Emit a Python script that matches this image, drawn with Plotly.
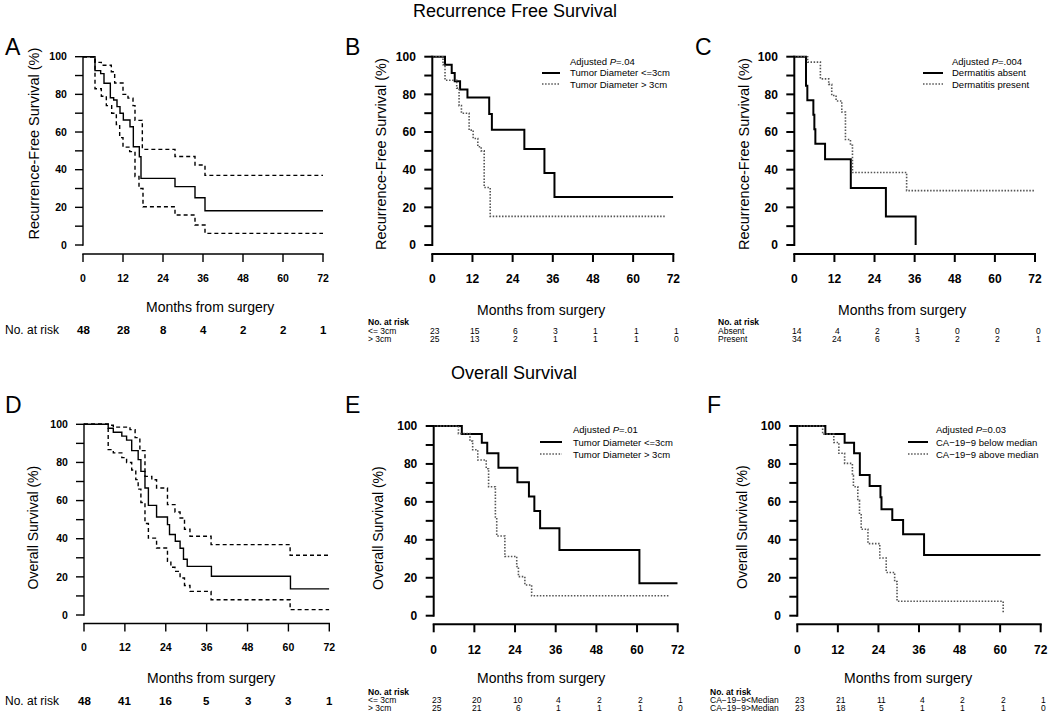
import plotly.graph_objects as go

W, H = 1050, 715
FONT = "Liberation Sans, Arial, sans-serif"

# ---------------- data ----------------
months_ticks = [0, 12, 24, 36, 48, 60, 72]
pct_ticks = [0, 10, 20, 30, 40, 50, 60, 70, 80, 90, 100]
pct_labels = ["0", "", "20", "", "40", "", "60", "", "80", "", "100"]

# A: Recurrence-free survival, all patients, with 95% CI
A_t = [0, 3.6, 5.3, 6.3, 8.2, 9.2, 10.2, 11.1, 12.1, 14.1, 15.1, 16.9, 17.4, 27.6, 33.6, 36.6, 72]
A_s = [100, 92.6, 91.0, 85.9, 78.2, 77.0, 73.5, 70.0, 66.4, 62.8, 52.2, 46.9, 35.4, 31.0, 25.1, 18.2, 18.2]
A_up_t = [0, 3.6, 5.5, 8.5, 9.5, 12.0, 13.5, 15.0, 15.6, 17.8, 27.6, 33.6, 36.6, 72]
A_up = [100, 97.0, 95.5, 92.0, 86.0, 80.0, 78.0, 74.0, 66.2, 50.8, 47.0, 42.5, 37.0, 37.0]
A_lo_t = [0, 3.6, 5.5, 7.0, 8.6, 10.0, 11.0, 12.0, 14.0, 15.6, 16.8, 18.0, 27.6, 33.6, 36.6, 72]
A_lo = [100, 83.0, 79.0, 74.0, 70.0, 64.0, 57.0, 52.0, 49.6, 36.4, 30.0, 20.3, 15.9, 10.6, 6.2, 6.2]

# B: RFS by tumor diameter
B1_t = [0, 3.8, 5.8, 6.7, 8.3, 10.5, 17.0, 17.8, 27.5, 33.5, 36.5, 72]
B1_s = [100, 95.7, 91.3, 87.0, 82.6, 78.3, 69.6, 61.2, 51.0, 38.3, 25.5, 25.5]
B2_t = [0, 3.2, 3.8, 7.3, 8.0, 8.7, 11.0, 12.2, 13.6, 14.6, 15.5, 17.3, 69.6]
B2_s = [100, 95.8, 87.5, 83.3, 74.0, 70.0, 61.0, 56.6, 52.2, 50.0, 30.5, 15.2, 15.2]

# C: RFS by dermatitis
C1_t = [0, 3.5, 3.9, 5.7, 6.0, 6.3, 9.2, 16.9, 27.4, 36.3]
C1_s = [100, 84.6, 76.9, 69.2, 61.5, 53.8, 45.5, 30.3, 15.2, 0]
C2_t = [0, 4.0, 7.8, 10.3, 11.2, 12.5, 14.2, 15.3, 16.8, 17.4, 33.6, 72]
C2_s = [100, 97.1, 88.2, 85.3, 79.4, 76.5, 70.6, 56.0, 53.0, 38.5, 28.9, 28.9]

# D: Overall survival, all patients, with 95% CI
D_t = [0, 7.1, 8.6, 11.1, 12.5, 14.0, 15.9, 16.7, 17.9, 18.9, 21.3, 24.5, 25.1, 26.8, 28.2, 29.2, 30.3, 37.4, 60.6, 72]
D_s = [100, 97.9, 95.8, 93.8, 91.7, 86.2, 81.5, 75.3, 66.6, 57.5, 51.4, 47.4, 42.2, 38.7, 35.0, 29.2, 25.5, 20.3, 13.7, 13.7]
D_up_t = [0, 7.1, 8.6, 13.5, 15.0, 16.4, 17.9, 19.9, 21.3, 24.5, 26.7, 28.2, 29.5, 31.1, 37.3, 60.5, 72]
D_up = [100, 99.5, 98.5, 97.2, 93.0, 86.2, 72.7, 70.9, 66.6, 57.9, 54.0, 50.9, 45.0, 41.3, 36.9, 31.3, 31.3]
D_lo_t = [0, 7.1, 8.6, 11.1, 12.5, 14.0, 15.2, 15.9, 16.7, 17.9, 18.9, 21.3, 24.5, 25.5, 26.7, 28.2, 29.5, 31.1, 37.3, 60.5, 72]
D_lo = [100, 86.7, 85.0, 82.5, 80.0, 76.0, 71.0, 66.0, 59.0, 48.0, 40.3, 35.1, 28.1, 25.0, 22.9, 19.4, 15.5, 12.4, 8.0, 2.8, 2.8]

# E: OS by tumor diameter
E1_t = [0, 8.3, 14.2, 15.8, 19.1, 24.7, 28.1, 29.7, 31.4, 37.1, 60.7, 72]
E1_s = [100, 95.8, 91.2, 85.6, 78.0, 70.3, 62.8, 55.2, 46.1, 34.6, 17.1, 17.1]
E2_t = [0, 7.3, 10.7, 11.5, 13.0, 15.5, 16.2, 18.2, 18.6, 21.0, 24.5, 25.0, 26.9, 28.9, 69.7]
E2_s = [100, 96.0, 92.0, 87.5, 82.1, 77.5, 68.0, 52.0, 42.0, 31.2, 25.9, 20.6, 16.2, 10.5, 10.5]

# F: OS by CA-19-9
F1_t = [0, 8.3, 14.0, 16.8, 18.5, 21.4, 24.6, 24.9, 28.1, 31.3, 37.5, 72]
F1_s = [100, 95.8, 91.2, 85.6, 74.2, 68.4, 62.4, 56.1, 50.5, 43.0, 32.0, 32.0]
F2_t = [0, 7.5, 10.8, 12.3, 14.0, 16.3, 16.6, 17.9, 18.4, 18.9, 20.9, 24.4, 26.3, 28.8, 29.5, 60.9, 60.9]
F2_s = [100, 95.7, 91.3, 85.6, 80.3, 73.9, 68.0, 60.8, 53.2, 45.6, 38.0, 30.4, 22.8, 18.0, 7.6, 7.6, 1.6]

# numbers at risk
risk_A = [48, 28, 8, 4, 2, 2, 1]
risk_B1 = [23, 15, 6, 3, 1, 1, 1]
risk_B2 = [25, 13, 2, 1, 1, 1, 0]
risk_C1 = [14, 4, 2, 1, 0, 0, 0]
risk_C2 = [34, 24, 6, 3, 2, 2, 1]
risk_D = [48, 41, 16, 5, 3, 3, 1]
risk_E1 = [23, 20, 10, 4, 2, 2, 1]
risk_E2 = [25, 21, 6, 1, 1, 1, 0]
risk_F1 = [23, 21, 11, 4, 2, 2, 1]
risk_F2 = [23, 18, 5, 1, 1, 1, 0]

# ---------------- layout geometry (pixels) ----------------
def fx(x):
    return x / W


def fy(y):
    return 1 - y / H


panels = {
    "A": dict(x0=83, x72=323, y100=56.7, y0=245, xline=254, tick=10.5, lw=1.4, letter=(3, 47)),
    "B": dict(x0=432.3, x72=673.3, y100=56.7, y0=245, xline=254, tick=12, lw=2, letter=(343, 47)),
    "C": dict(x0=794.3, x72=1035, y100=56.7, y0=245, xline=254, tick=12, lw=2, letter=(693, 47)),
    "D": dict(x0=84, x72=329.3, y100=424.3, y0=615, xline=623.5, tick=10.5, lw=1.4, letter=(3, 405)),
    "E": dict(x0=433.7, x72=677.7, y100=426, y0=615.7, xline=624.3, tick=12, lw=2, letter=(343, 405)),
    "F": dict(x0=797.3, x72=1040.7, y100=426, y0=615.7, xline=624.3, tick=12, lw=2, letter=(705, 405)),
}
order = ["A", "B", "C", "D", "E", "F"]

fig = go.Figure()
layout = dict(
    width=W, height=H,
    margin=dict(l=0, r=0, t=0, b=0),
    paper_bgcolor="white", plot_bgcolor="rgba(0,0,0,0)",
    showlegend=False,
    font=dict(family=FONT, color="black"),
)
annotations = []
shapes = []


def axname(letter, n):
    return letter + "axis" + ("" if n == 1 else str(n))


def axid(letter, n):
    return letter + ("" if n == 1 else str(n))


TOPPAD = 0.9
TICKLEN = 8
INVISIBLE = "rgba(0,0,0,0)"
for i, key in enumerate(order):
    p = panels[key]
    n = i + 1
    ppu = (p["y0"] - p["y100"]) / 100.0
    botpad = (p["xline"] - p["y0"]) / ppu
    ylo, yhi = -botpad, 100 + TOPPAD
    xr = [months_ticks[0], months_ticks[-1]]
    layout[axname("x", n)] = dict(
        domain=[fx(p["x0"]), fx(p["x72"])], range=xr, anchor=axid("y", n),
        showline=False, ticks="outside", ticklen=TICKLEN, tickcolor=INVISIBLE,
        tickmode="array", tickvals=months_ticks, ticktext=[str(v) for v in months_ticks],
        tickfont=dict(size=p["tick"], family=FONT, color="black", weight="bold"),
        ticklabelstandoff=6,
        showgrid=False, zeroline=False, fixedrange=True, automargin=False)
    layout[axname("y", n)] = dict(
        domain=[fy(p["xline"]), fy(p["y100"] - TOPPAD * ppu)], range=[ylo, yhi],
        anchor=axid("x", n),
        showline=False, ticks="outside", ticklen=TICKLEN, tickcolor=INVISIBLE,
        tickmode="array", tickvals=pct_ticks, ticktext=pct_labels,
        tickfont=dict(size=p["tick"], family=FONT, color="black", weight="bold"),
        ticklabelstandoff=5,
        showgrid=False, zeroline=False, fixedrange=True, automargin=False)

    # axis frame drawn as thin filled bars, placed through the same linear
    # mapping as the axes (R style: y axis spans 0-100, x axis detached)
    def xpix(v, p=p):
        return p["x0"] + (v - xr[0]) / (xr[1] - xr[0]) * (p["x72"] - p["x0"])

    def ypix(v, p=p):
        return p["y0"] - v / 100.0 * (p["y0"] - p["y100"])

    half = p["lw"] / 2.0
    bars = [(xpix(months_ticks[0]) - half, p["xline"] - half,
             xpix(months_ticks[-1]) + half, p["xline"] + half)]
    for v in months_ticks:
        bars.append((xpix(v) - half, p["xline"], xpix(v) + half, p["xline"] + TICKLEN))
    bars.append((p["x0"] - half, ypix(pct_ticks[-1]) - half,
                 p["x0"] + half, ypix(pct_ticks[0]) + half))
    for v in pct_ticks:
        bars.append((p["x0"] - TICKLEN, ypix(v) - half, p["x0"], ypix(v) + half))
    for (l, t, r, b) in bars:
        shapes.append(dict(type="rect", xref="paper", yref="paper",
                           x0=fx(l), x1=fx(r), y0=fy(b), y1=fy(t),
                           fillcolor="black", line=dict(width=0), layer="above"))

    lx, ly = p["letter"]
    annotations.append(dict(text=key, x=fx(lx), y=fy(ly), xref="paper", yref="paper",
                            xanchor="left", yanchor="middle", showarrow=False,
                            font=dict(size=23, family=FONT, color="black")))


def step(n, t, s, color="black", width=1.5, dash="solid"):
    fig.add_trace(go.Scatter(x=t, y=s, mode="lines", line_shape="hv",
                             line=dict(color=color, width=width, dash=dash),
                             xaxis=axid("x", n), yaxis=axid("y", n), showlegend=False,
                             hoverinfo="skip"))


CI_DASH = "4px,3px"
DOT = "1.5px,1.6px"
GREY = "#555555"

step(1, A_t, A_s, width=1.4)
step(1, A_up_t, A_up, width=1.4, dash=CI_DASH)
step(1, A_lo_t, A_lo, width=1.4, dash=CI_DASH)

step(2, B1_t, B1_s, width=2)
step(2, B2_t, B2_s, color=GREY, width=1.6, dash=DOT)

step(3, C1_t, C1_s, width=2)
step(3, C2_t, C2_s, color=GREY, width=1.6, dash=DOT)

step(4, D_t, D_s, width=1.4)
step(4, D_up_t, D_up, width=1.4, dash=CI_DASH)
step(4, D_lo_t, D_lo, width=1.4, dash=CI_DASH)

step(5, E1_t, E1_s, width=2)
step(5, E2_t, E2_s, color=GREY, width=1.6, dash=DOT)

step(6, F1_t, F1_s, width=2)
step(6, F2_t, F2_s, color=GREY, width=1.6, dash=DOT)


def text(t, x, y, size, anchor="center", angle=0, xref="paper", weight="normal", xshift=0):
    annotations.append(dict(text=t, x=x if xref != "paper" else fx(x), y=fy(y),
                            xref=xref, yref="paper", xanchor=anchor, yanchor="middle",
                            showarrow=False, textangle=angle, xshift=xshift,
                            font=dict(size=size, family=FONT, color="black", weight=weight)))


# section titles
text("Recurrence Free Survival", 515, 11, 18)
text("Overall Survival", 514, 373, 18)

# y axis titles
text("Recurrence-Free Survival (%)", 33.5, 144, 14.5, angle=-90)
text("Recurrence-Free Survival (%)", 381, 154, 14.5, angle=-90)
text("Recurrence-Free Survival (%)", 744, 154, 14.5, angle=-90)
text("Overall Survival (%)", 32, 527.5, 14, angle=-90)
text("Overall Survival (%)", 378, 528, 14, angle=-90)
text("Overall Survival (%)", 742, 527, 14, angle=-90)

# x axis titles
for (cx, cy) in [(210, 307), (540.5, 310), (901.7, 309.5), (210.8, 678.3), (540.8, 678.3), (907.5, 678.3)]:
    text("Months from surgery", cx, cy, 14)

# numbers at risk, single group panels
text("No. at risk", 3, 329.5, 12, anchor="left")
for v, n in zip(months_ticks, risk_A):
    text(str(n), v, 329.5, 11.5, xref="x", weight="bold")
text("No. at risk", 3, 700.7, 12, anchor="left")
for v, n in zip(months_ticks, risk_D):
    text(str(n), v, 700.7, 11.5, xref="x4", weight="bold")

# numbers at risk, two group panels
two_group = [
    ("x2", 366, (322, 330.5, 339), "<= 3cm", "> 3cm", risk_B1, risk_B2),
    ("x3", 716, (322, 330.5, 339), "Absent", "Present", risk_C1, risk_C2),
    ("x5", 366, (692.3, 700.3, 707.8), "<= 3cm", "> 3cm", risk_E1, risk_E2),
    ("x6", 708, (692.3, 700.3, 707.8), "CA\u221219\u22129<Median", "CA\u221219\u22129>Median", risk_F1, risk_F2),
]
for axis, left, (yh, y1, y2), lab1, lab2, r1, r2 in two_group:
    text("No. at risk", left, yh, 8.5, anchor="left", weight="bold")
    text(lab1, left, y1, 8.5, anchor="left")
    text(lab2, left, y2, 8.5, anchor="left")
    for v, n in zip(months_ticks, r1):
        text(str(n), v, y1, 8.5, xref=axis, xshift=3)
    for v, n in zip(months_ticks, r2):
        text(str(n), v, y2, 8.5, xref=axis, xshift=3)

# in-panel legends
legends = [
    (568, 542, 560, (62, 73, 84), "Adjusted <i>P</i>=.04", "Tumor Diameter <=3cm", "Tumor Diameter > 3cm"),
    (950, 923, 943, (62, 73, 84), "Adjusted <i>P</i>=.004", "Dermatitis absent", "Dermatitis present"),
    (571, 540, 562, (430, 442, 454), "Adjusted <i>P</i>=.01", "Tumor Diameter <=3cm", "Tumor Diameter > 3cm"),
    (934, 908, 928, (430, 442, 454), "Adjusted <i>P</i>=0.03", "CA\u221219\u22129 below median", "CA\u221219\u22129 above median"),
]
for tx, k0, k1, (r0, r1, r2), title, l1, l2 in legends:
    text(title, tx, r0, 9.5, anchor="left")
    text(l1, tx, r1, 9.5, anchor="left")
    text(l2, tx, r2, 9.5, anchor="left")
    shapes.append(dict(type="line", xref="paper", yref="paper", x0=fx(k0), x1=fx(k1),
                       y0=fy(r1), y1=fy(r1), line=dict(color="black", width=2)))
    shapes.append(dict(type="line", xref="paper", yref="paper", x0=fx(k0), x1=fx(k1),
                       y0=fy(r2), y1=fy(r2), line=dict(color=GREY, width=1.6, dash=DOT)))

layout["annotations"] = annotations
layout["shapes"] = shapes
fig.update_layout(**layout)
fig.write_html("out.html", config={"displayModeBar": False, "staticPlot": True},
               post_script="document.body.style.margin='0';document.body.style.overflow='hidden';")
